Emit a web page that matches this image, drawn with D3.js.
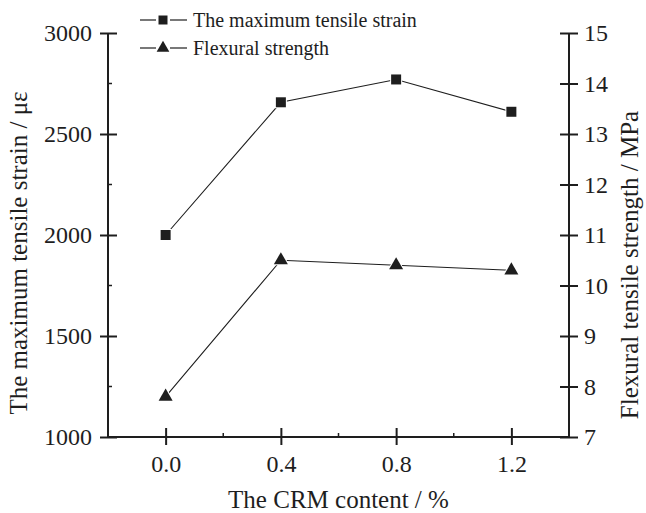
<!DOCTYPE html>
<html>
<head>
<meta charset="utf-8">
<script src="https://cdn.jsdelivr.net/npm/d3@7"></script>
<style>
  html, body { margin: 0; padding: 0; background: #fff; }
  svg { display: block; }
  svg text { font-family: "Liberation Serif", "Times New Roman", serif; }
</style>
</head>
<body>
<svg id="chart" width="646" height="513"></svg>
<script>
// CRM content (%) and measured values
const crmContent = [0.0, 0.4, 0.8, 1.2];
const maxTensileStrain = [2000, 2657, 2770, 2610];    // με
const flexuralStrength = [7.8, 10.5, 10.4, 10.3];     // MPa

const xTicks = [0.0, 0.4, 0.8, 1.2];
const xMinorTicks = [0.2, 0.6, 1.0];
const leftTicks = [1000, 1500, 2000, 2500, 3000];
const leftMinorTicks = [1250, 1750, 2250, 2750];
const rightTicks = [7, 8, 9, 10, 11, 12, 13, 14, 15];

const legendLabels = ["The maximum tensile strain", "Flexural strength"];

const ink = "#1e1e1e";
const serif = "Liberation Serif";
const svg = d3.select("#chart");

const plotL = 108, plotR = 569, plotT = 33, plotB = 437;

const x = d3.scaleLinear().domain([-0.2, 1.4]).range([plotL, plotR]);
const yL = d3.scaleLinear().domain([1000, 3000]).range([plotB, plotT]);
const yR = d3.scaleLinear().domain([7, 15]).range([plotB, plotT]);

// Axis lines
const axes = svg.append("g").attr("stroke", ink).attr("stroke-width", 2).attr("fill", "none");
axes.append("line").attr("x1", plotL).attr("x2", plotL).attr("y1", plotT).attr("y2", plotB + 1);
axes.append("line").attr("x1", plotR).attr("x2", plotR).attr("y1", plotT).attr("y2", plotB + 1);
axes.append("line").attr("x1", plotL - 1).attr("x2", plotR + 1).attr("y1", plotB).attr("y2", plotB);

// Bottom axis: major ticks cross the axis line
const gx = svg.append("g").attr("transform", `translate(0,${plotB})`)
  .call(d3.axisBottom(x).tickValues(xTicks).tickFormat(d3.format(".1f")).tickSizeInner(8).tickSizeOuter(0).tickPadding(10));
gx.attr("font-family", serif);
gx.select(".domain").remove();
gx.selectAll(".tick line").attr("y1", -9).attr("stroke", ink).attr("stroke-width", 2);
gx.selectAll(".tick text").attr("font-size", 24).attr("fill", ink);
svg.append("g").selectAll("line").data(xMinorTicks).join("line")
  .attr("x1", d => x(d)).attr("x2", d => x(d)).attr("y1", plotB).attr("y2", plotB - 4)
  .attr("stroke", ink).attr("stroke-width", 1.5);

// Left axis
const gl = svg.append("g").attr("transform", `translate(${plotL},0)`)
  .call(d3.axisLeft(yL).tickValues(leftTicks).tickFormat(d3.format("d")).tickSizeInner(8).tickSizeOuter(0).tickPadding(8));
gl.attr("font-family", serif);
gl.select(".domain").remove();
gl.selectAll(".tick line").attr("x1", 9).attr("stroke", ink).attr("stroke-width", 2);
gl.selectAll(".tick text").attr("font-size", 24).attr("fill", ink);
svg.append("g").selectAll("line").data(leftMinorTicks).join("line")
  .attr("x1", plotL).attr("x2", plotL + 4).attr("y1", d => yL(d)).attr("y2", d => yL(d))
  .attr("stroke", ink).attr("stroke-width", 1.5);

// Right axis
const gr = svg.append("g").attr("transform", `translate(${plotR},0)`)
  .call(d3.axisRight(yR).tickValues(rightTicks).tickFormat(d3.format("d")).tickSizeInner(9).tickSizeOuter(0).tickPadding(6));
gr.attr("font-family", serif);
gr.select(".domain").remove();
gr.selectAll(".tick line").attr("x1", -9).attr("stroke", ink).attr("stroke-width", 2);
gr.selectAll(".tick text").attr("font-size", 24).attr("fill", ink);

// Axis titles
svg.append("text").attr("x", (plotL + plotR) / 2).attr("y", 508)
  .attr("text-anchor", "middle").attr("font-size", 25).attr("fill", ink)
  .text("The CRM content / %");
svg.append("text").attr("transform", "translate(27,253) rotate(-90)")
  .attr("text-anchor", "middle").attr("font-size", 25).attr("fill", ink)
  .text("The maximum tensile strain / με");
svg.append("text").attr("transform", "translate(638,265) rotate(-90)")
  .attr("text-anchor", "middle").attr("font-size", 25).attr("fill", ink)
  .text("Flexural tensile strength / MPa");

// Series lines
const strainPts = crmContent.map((c, i) => [x(c), yL(maxTensileStrain[i])]);
const flexPts = crmContent.map((c, i) => [x(c), yR(flexuralStrength[i])]);
const line = d3.line();
svg.append("path").attr("d", line(strainPts)).attr("fill", "none").attr("stroke", ink).attr("stroke-width", 1.1);
svg.append("path").attr("d", line(flexPts)).attr("fill", "none").attr("stroke", ink).attr("stroke-width", 1.1);

// Markers, with a thin white halo so lines stop short of them
const sq = d3.symbol().type(d3.symbolSquare).size(100);
const tri = d3.symbol().type(d3.symbolTriangle).size(85);
svg.append("g").selectAll("path").data(strainPts).join("path")
  .attr("transform", d => `translate(${d[0]},${d[1]})`).attr("d", sq)
  .attr("fill", ink).attr("stroke", "#fff").attr("stroke-width", 2).attr("paint-order", "stroke");
svg.append("g").selectAll("path").data(flexPts).join("path")
  .attr("transform", d => `translate(${d[0]},${d[1]})`).attr("d", tri)
  .attr("fill", ink).attr("stroke", "#fff").attr("stroke-width", 2).attr("paint-order", "stroke");

// Legend
const legendRows = [
  { label: legendLabels[0], sym: d3.symbol().type(d3.symbolSquare).size(81), y: 20 },
  { label: legendLabels[1], sym: d3.symbol().type(d3.symbolTriangle).size(70), y: 48 }
];
const lg = svg.append("g");
legendRows.forEach(r => {
  lg.append("line").attr("x1", 140).attr("x2", 156).attr("y1", r.y).attr("y2", r.y).attr("stroke", ink).attr("stroke-width", 1.2);
  lg.append("line").attr("x1", 170).attr("x2", 187).attr("y1", r.y).attr("y2", r.y).attr("stroke", ink).attr("stroke-width", 1.2);
  lg.append("path").attr("transform", `translate(163,${r.y})`).attr("d", r.sym).attr("fill", ink);
  lg.append("text").attr("x", 193).attr("y", r.y + 7).attr("font-size", 20).attr("fill", ink).text(r.label);
});
</script>
</body>
</html>
